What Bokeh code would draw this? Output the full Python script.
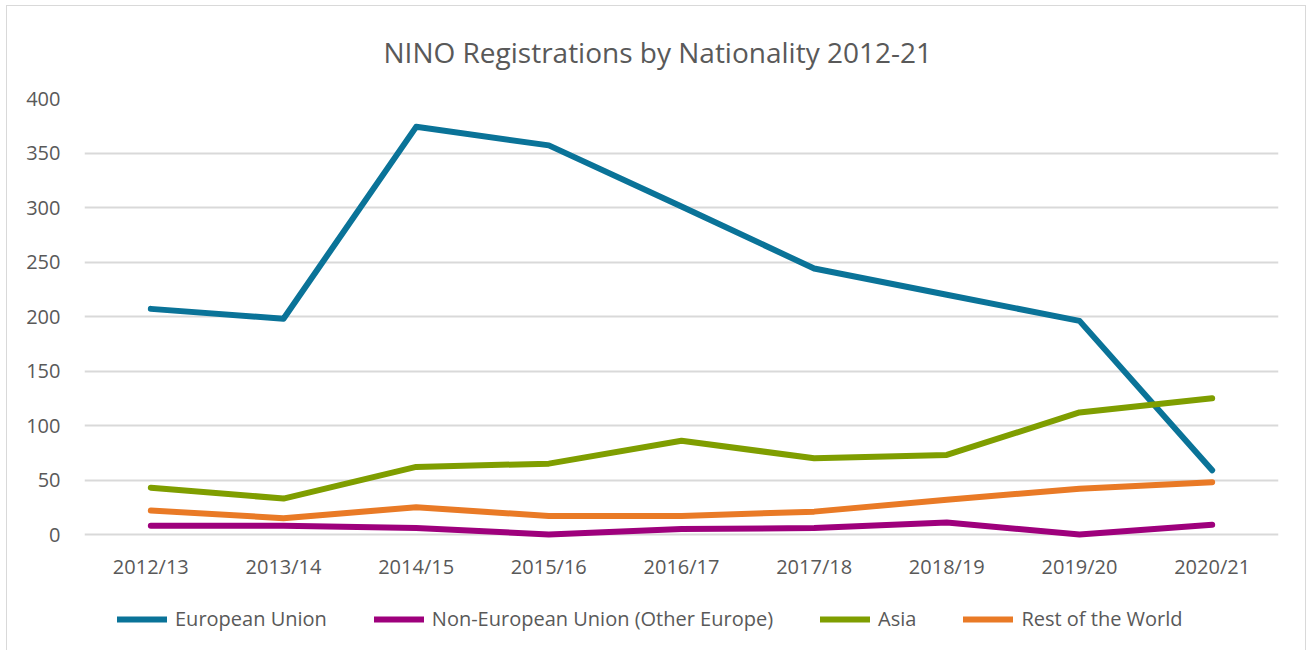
from bokeh.plotting import figure
from bokeh.models import Legend, LegendItem, FactorRange, Range1d, FixedTicker
from bokeh.embed import file_html
from bokeh.resources import INLINE

years = ["2012/13", "2013/14", "2014/15", "2015/16", "2016/17", "2017/18", "2018/19", "2019/20", "2020/21"]
eu = [207, 198, 374, 357, 301, 244, 220, 196, 59]
non_eu = [8, 8, 6, 0, 5, 6, 11, 0, 9]
asia = [43, 33, 62, 65, 86, 70, 73, 112, 125]
rest = [22, 15, 25, 17, 17, 21, 32, 42, 48]
y_ticks = [0, 50, 100, 150, 200, 250, 300, 350, 400]

series = [
    ("European Union", eu, "#0A7398"),
    ("Non-European Union (Other Europe)", non_eu, "#9E007C"),
    ("Asia", asia, "#7F9E00"),
    ("Rest of the World", rest, "#E97A26"),
]

FONT = "Open Sans"
TXT = "#595959"

# frame extends below the value 0 so that the legend sits inside it
p = figure(
    x_range=FactorRange(*years, range_padding=0),
    y_range=Range1d(-106.4, 400),
    frame_width=1194, frame_height=552,
    output_backend="svg", toolbar_location=None,
    min_border_left=77, min_border_right=27, min_border_top=92, min_border_bottom=0,
    title="NINO Registrations by Nationality 2012-21",
)
p.styles = {"border-left": "1px solid #d9d9d9", "border-top": "1px solid #d9d9d9",
            "border-right": "1px solid #d9d9d9", "margin-left": "6px", "margin-top": "5px"}
p.outline_line_color = None
p.title.align = "left"
p.title.vertical_align = "top"
p.title.text_font = FONT
p.title.text_font_size = "28px"
p.title.text_font_style = "normal"
p.title.text_color = TXT
p.title.offset = 299
p.title.standoff = 51

items = []
for name, vals, col in series:
    r = p.line(years, vals, line_color=col, line_width=6, line_cap="round", line_join="round")
    items.append(LegendItem(label=name, renderers=[r]))

p.xgrid.grid_line_color = None
p.ygrid.grid_line_color = "#d9d9d9"
p.ygrid.grid_line_width = 2
p.yaxis.ticker = FixedTicker(ticks=y_ticks)
p.xaxis.fixed_location = 0
for ax in (p.xaxis, p.yaxis):
    ax.axis_line_color = None
    ax.major_tick_line_color = None
    ax.minor_tick_line_color = None
    ax.major_label_text_font = FONT
    ax.major_label_text_font_size = "20px"
    ax.major_label_text_color = TXT
p.yaxis.major_label_standoff = 18
p.xaxis.major_label_standoff = 12

legend = Legend(items=items, orientation="horizontal", location=(33, 18),
                glyph_width=50, glyph_height=20, label_height=20, label_standoff=8, spacing=47,
                border_line_color=None, background_fill_alpha=0,
                label_text_font=FONT, label_text_font_size="20px", label_text_color=TXT,
                margin=0, padding=0)
p.add_layout(legend, "center")

open("out.html", "w").write(file_html(p, INLINE))
